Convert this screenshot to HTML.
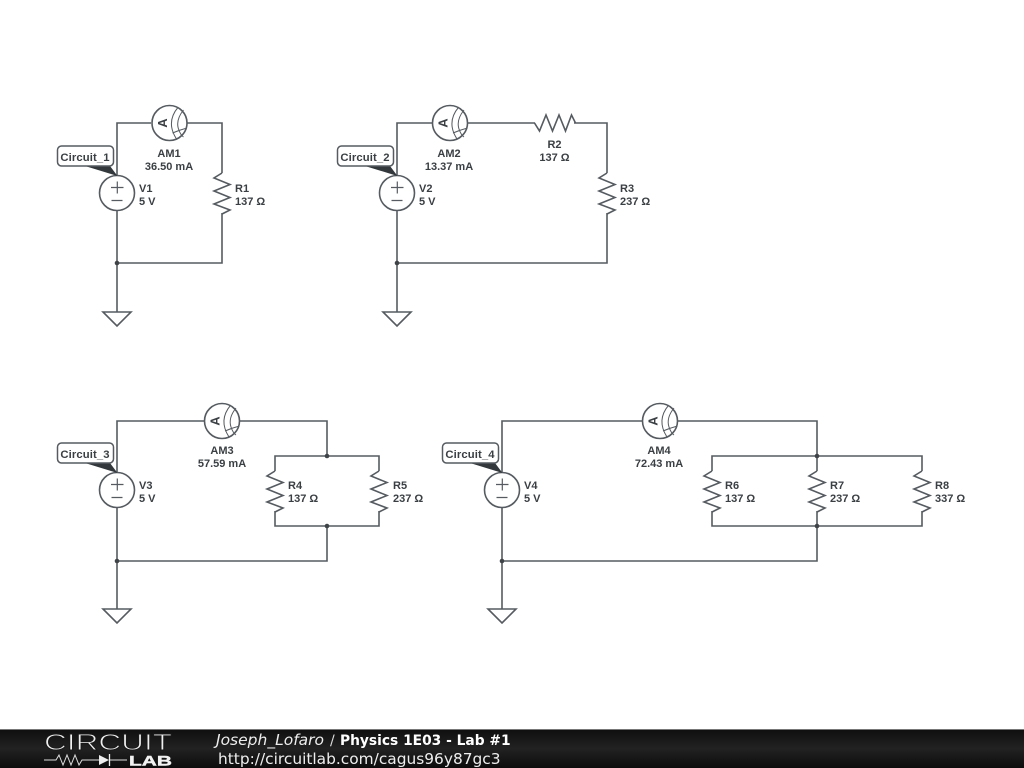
<!DOCTYPE html>
<html>
<head>
<meta charset="utf-8">
<title>Physics 1E03 - Lab #1</title>
<style>
html,body{margin:0;padding:0;background:#fff;width:1024px;height:768px;overflow:hidden}
svg{display:block}
.w{fill:none;stroke:#555b60;stroke-width:1.6}
.l{font-family:"Liberation Sans",sans-serif;font-weight:bold;font-size:11px;fill:#3a3f43}
.c{font-size:11.3px;letter-spacing:0.1px}
.t{font-family:"DejaVu Sans",sans-serif}
</style>
</head>
<body>
<svg width="1024" height="768" viewBox="0 0 1024 768" xmlns="http://www.w3.org/2000/svg">
<defs>
<linearGradient id="g" x1="0" y1="0" x2="0" y2="1"><stop offset="0" stop-color="#0e0e0e"/><stop offset="0.5" stop-color="#222"/><stop offset="1" stop-color="#0c0c0c"/></linearGradient>
<g id="res"><path class="w" d="M0-20 L-8-15 L8-8.500 L-8-2 L8 4.500 L-8 11 L8 17 L0 21"/></g>
<g id="src"><circle class="w" r="17.500"/><path d="M-6-5.500H6.500M0.300-11.500V0.500M-5.500 7.500H5.500" fill="none" stroke="#555b60" stroke-width="1.200"/></g>
<g id="gnd"><path class="w" d="M-14 0H14L0 14Z"/></g>
<g id="am"><circle class="w" r="17.500"/><path d="M8.800-16Q-4-1 7 16M14-13Q6-3 9 6Q11 12 14 14M3 10Q10 7 17.500 5" fill="none" stroke="#555b60" stroke-width="1"/><text transform="translate(-7 0) rotate(-90)" text-anchor="middle" y="4.500" class="l" style="font-size:13px">A</text></g>
<g id="tag"><path d="M85 166L117.500 176L110 166Z" fill="#33383c"/><rect x="57.500" y="146" width="56" height="20" rx="4" fill="#fff" stroke="#555b60" stroke-width="1.500"/></g>
</defs>

<!-- Circuit 1 -->
<path class="w" d="M117 175V123H151M187 123H222V173M222 213V263H117M117 211V312"/>
<use href="#am" x="169.500" y="123"/><use href="#res" x="222" y="193"/><use href="#src" x="117" y="193"/><use href="#gnd" x="117" y="312"/>
<circle cx="117" cy="263" r="2.300" fill="#3f4448"/>
<use href="#tag"/>
<text class="l c" x="85" y="161" text-anchor="middle">Circuit_1</text>
<text class="l" x="169" y="157" text-anchor="middle">AM1</text><text class="l" x="169" y="170" text-anchor="middle">36.50 mA</text>
<text class="l" x="139" y="192">V1</text><text class="l" x="139" y="205">5 V</text>
<text class="l" x="235" y="192">R1</text><text class="l" x="235" y="205">137 Ω</text>

<!-- Circuit 2 -->
<path class="w" d="M397 175V123H432M468 123H535M574 123H607V173M607 213V263H397M397 211V312"/>
<use href="#am" x="450" y="123"/><use href="#res" transform="translate(554.500 123) rotate(-90)"/><use href="#res" x="607" y="193"/><use href="#src" x="397" y="193"/><use href="#gnd" x="397" y="312"/>
<circle cx="397" cy="263" r="2.300" fill="#3f4448"/>
<use href="#tag" x="280"/>
<text class="l c" x="365" y="161" text-anchor="middle">Circuit_2</text>
<text class="l" x="449" y="157" text-anchor="middle">AM2</text><text class="l" x="449" y="170" text-anchor="middle">13.37 mA</text>
<text class="l" x="419" y="192">V2</text><text class="l" x="419" y="205">5 V</text>
<text class="l" x="554.500" y="148" text-anchor="middle">R2</text><text class="l" x="554.500" y="161" text-anchor="middle">137 Ω</text>
<text class="l" x="620" y="192">R3</text><text class="l" x="620" y="205">237 Ω</text>

<!-- Circuit 3 -->
<path class="w" d="M117 472V421H204M240 421H327V456M275 471V456H379V471M275 511V526H379V511M327 526V561H117M117 508V609"/>
<use href="#am" x="222" y="421"/><use href="#res" x="275" y="491"/><use href="#res" x="379" y="491"/><use href="#src" x="117" y="490"/><use href="#gnd" x="117" y="609"/>
<circle cx="327" cy="456" r="2.300" fill="#3f4448"/><circle cx="327" cy="526" r="2.300" fill="#3f4448"/><circle cx="117" cy="561" r="2.300" fill="#3f4448"/>
<use href="#tag" y="297"/>
<text class="l c" x="85" y="458" text-anchor="middle">Circuit_3</text>
<text class="l" x="222" y="454" text-anchor="middle">AM3</text><text class="l" x="222" y="467" text-anchor="middle">57.59 mA</text>
<text class="l" x="139" y="489">V3</text><text class="l" x="139" y="502">5 V</text>
<text class="l" x="288" y="489">R4</text><text class="l" x="288" y="502">137 Ω</text>
<text class="l" x="393" y="489">R5</text><text class="l" x="393" y="502">237 Ω</text>

<!-- Circuit 4 -->
<path class="w" d="M502 472V421H642M678 421H817V471M712 471V456H922V471M712 511V526H922V511M817 511V561H502M502 508V609"/>
<use href="#am" x="660" y="421"/><use href="#res" x="712" y="491"/><use href="#res" x="817" y="491"/><use href="#res" x="922" y="491"/><use href="#src" x="502" y="490"/><use href="#gnd" x="502" y="609"/>
<circle cx="817" cy="456" r="2.300" fill="#3f4448"/><circle cx="817" cy="526" r="2.300" fill="#3f4448"/><circle cx="502" cy="561" r="2.300" fill="#3f4448"/>
<use href="#tag" x="385" y="297"/>
<text class="l c" x="470" y="458" text-anchor="middle">Circuit_4</text>
<text class="l" x="659" y="454" text-anchor="middle">AM4</text><text class="l" x="659" y="467" text-anchor="middle">72.43 mA</text>
<text class="l" x="524" y="489">V4</text><text class="l" x="524" y="502">5 V</text>
<text class="l" x="725" y="489">R6</text><text class="l" x="725" y="502">137 Ω</text>
<text class="l" x="830" y="489">R7</text><text class="l" x="830" y="502">237 Ω</text>
<text class="l" x="935" y="489">R8</text><text class="l" x="935" y="502">337 Ω</text>

<!-- Footer -->
<rect x="0" y="729" width="1024" height="39" fill="url(#g)"/>
<rect x="0" y="729" width="1024" height="1" fill="#777"/>
<text x="44" y="750" textLength="128" lengthAdjust="spacingAndGlyphs" style="font-family:'Liberation Sans',sans-serif;font-size:23.500px" fill="#f0f0f0" stroke="#1a1a1a" stroke-width="0.900">CIRCUIT</text>
<path d="M44 760H56L59 755L63 765L67 755L71 765L75 755L79 765L82 760H99M109 760H127" fill="none" stroke="#ddd" stroke-width="1"/>
<path d="M99 755V765L109 760Z" fill="#eee"/><path d="M109.500 754V766" stroke="#eee" stroke-width="1.300" fill="none"/>
<text x="129" y="765.500" textLength="43" lengthAdjust="spacingAndGlyphs" style="font-family:'Liberation Sans',sans-serif;font-weight:bold;font-size:13.500px" fill="#f2f2f2" stroke="#f2f2f2" stroke-width="0.400">LAB</text>
<text class="t" x="216" y="745" fill="#eee" font-size="15.500" font-style="italic">Joseph_Lofaro</text>
<text class="t" x="330" y="745" fill="#ddd" font-size="14">/</text>
<text class="t" x="340" y="745" fill="#fff" font-size="13.800" font-weight="bold">Physics 1E03 - Lab #1</text>
<text class="t" x="218" y="764" fill="#eee" font-size="15.400">http://circuitlab.com/cagus96y87gc3</text>
</svg>
</body>
</html>
